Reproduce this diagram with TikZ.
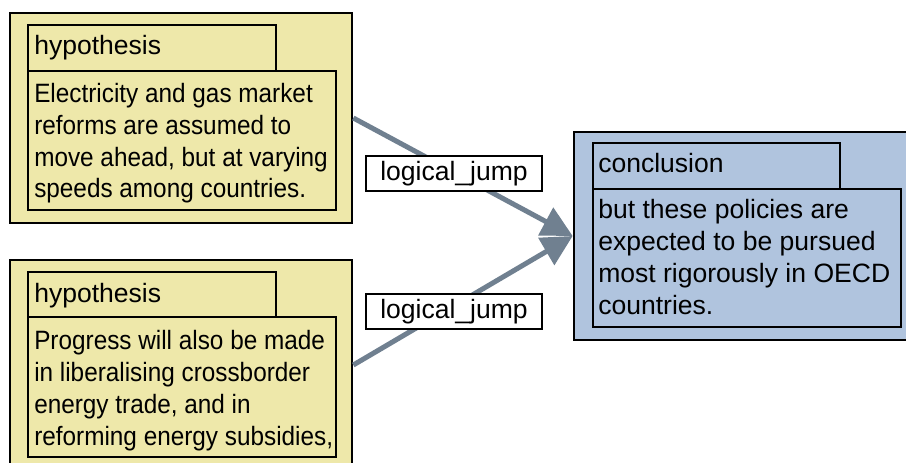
\documentclass[tikz,border=0pt]{standalone}
\usepackage{fontspec}
\setmainfont{Liberation Sans}
\newfontfamily\condfont[FakeStretch=0.917]{Liberation Sans}
\usetikzlibrary{arrows.meta,fit}
\definecolor{hypfill}{RGB}{238,232,170}
\definecolor{conffill}{RGB}{176,196,222}
\definecolor{jumpcol}{RGB}{112,128,144}
\tikzset{
  outerbox/.style={draw=black,line width=2pt,inner sep=0pt},
  innerbox/.style={draw=black,line width=1pt,inner sep=0pt},
  txt/.style={anchor=base west,inner sep=0pt,align=left,font=\fontsize{19.9pt}{23.8pt}\selectfont},
  condtxt/.style={txt,font=\fontsize{19.9pt}{23.8pt}\condfont},
  jump/.style={draw=jumpcol,line width=3.75pt,-{Triangle[length=23pt,width=23pt]}},
  jumplabel/.style={draw=black,fill=white,line width=1.5pt,inner sep=0pt,minimum width=132pt,minimum height=26pt,font=\fontsize{19.9pt}{23.8pt}\selectfont}
}
\begin{document}
\begin{tikzpicture}[x=0.75pt,y=-0.75pt]
\useasboundingbox[fill=white] (0,0) rectangle (906,463);
% boxes
\node[outerbox,fill=hypfill,fit={(10,13)(352,223)}] (h1) {};
\node[innerbox,fill=hypfill,fit={(28,25)(276,71)}] (h1t) {};
\node[innerbox,fill=hypfill,fit={(28,71)(336,210)}] (h1b) {};
\node[outerbox,fill=hypfill,fit={(10,260)(352,470)}] (h2) {};
\node[innerbox,fill=hypfill,fit={(28,272)(276,317)}] (h2t) {};
\node[innerbox,fill=hypfill,fit={(28,317)(336,457)}] (h2b) {};
\node[outerbox,fill=conffill,fit={(574,132)(917,340)}] (c) {};
\node[innerbox,fill=conffill,fit={(593,143)(840,189)}] (ct) {};
\node[innerbox,fill=conffill,fit={(593,189)(901,327)}] (cb) {};
% texts (base anchor = baseline of last line)
\node[txt] (h1tt) at (34,55) {hypothesis};
\node[condtxt] (h1bt) at (34,198) {Electricity and gas market\\reforms are assumed to\\move ahead, but at varying\\speeds among countries.};
\node[txt] (h2tt) at (34,302) {hypothesis};
\node[condtxt] (h2bt) at (34,445) {Progress will also be made\\in liberalising crossborder\\energy trade, and in\\reforming energy subsidies,};
\node[txt] (ctt) at (598,173) {conclusion};
\node[txt] (cbt) at (598,314) {but these policies are\\expected to be pursued\\most rigorously in OECD\\countries.};
% connectors
\draw[jump] (h1.east) -- (c.west);
\draw[jump] (h2.east) -- (c.west);
\node[jumplabel] (l1) at (454,173.5) {logical\_jump};
\node[jumplabel] (l2) at (454,311.5) {logical\_jump};
\end{tikzpicture}
\end{document}
